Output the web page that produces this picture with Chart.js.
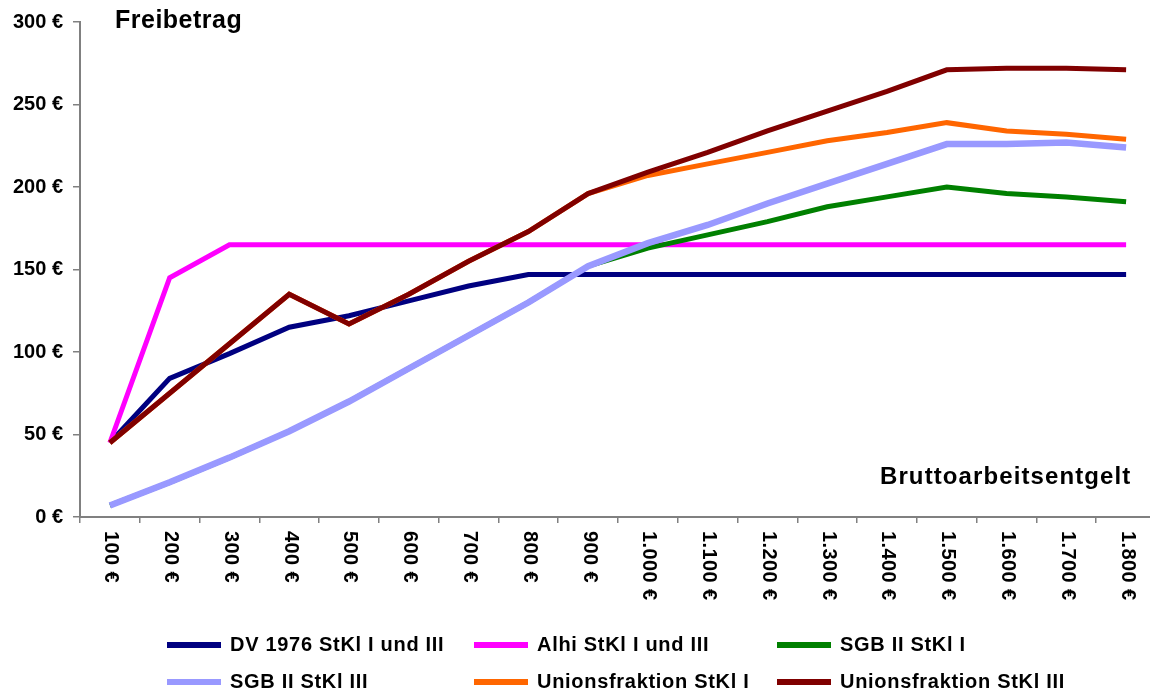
<!DOCTYPE html>
<html>
<head>
<meta charset="utf-8">
<script src="https://cdn.jsdelivr.net/npm/chart.js@4/dist/chart.umd.min.js"></script>
<style>
  body { margin: 0; background: #fff; }
  #wrap { position: relative; width: 1150px; height: 693px; overflow: hidden; }
  #chart { position: absolute; left: 0; top: 0; }
  .txt { position: absolute; font-family: "Liberation Sans", Arial, sans-serif; font-weight: bold; color: #000; white-space: nowrap; }
  #ytitle { left: 115px; top: 5px; font-size: 25px; letter-spacing: 0.5px; }
  #xtitle { left: 880px; top: 462px; font-size: 24px; letter-spacing: 1.1px; }
  .leg { position: absolute; height: 30px; }
  .leg .ln { position: absolute; left: 0; top: 12px; width: 54px; height: 6px; }
  .leg .lt { position: absolute; left: 63px; top: 3px; font-size: 20px; letter-spacing: 0.7px; }
</style>
</head>
<body>
<div id="wrap">
  <canvas id="chart" width="1160" height="693"></canvas>
  <div class="txt" id="ytitle">Freibetrag</div>
  <div class="txt" id="xtitle">Bruttoarbeitsentgelt</div>
  <div id="legend"></div>
</div>
<script>
// categories (gross pay)
var labels = ["100 €", "200 €", "300 €", "400 €", "500 €", "600 €", "700 €", "800 €", "900 €",
  "1.000 €", "1.100 €", "1.200 €", "1.300 €", "1.400 €", "1.500 €", "1.600 €", "1.700 €", "1.800 €"]

// series values
var dv1976   = [45, 84, 99, 115, 122, 131, 140, 147, 147, 147, 147, 147, 147, 147, 147, 147, 147, 147]
var alhi     = [45, 145, 165, 165, 165, 165, 165, 165, 165, 165, 165, 165, 165, 165, 165, 165, 165, 165]
var sgb1     = [7, 21, 36, 52, 70, 90, 110, 130, 152, 163, 171, 179, 188, 194, 200, 196, 194, 191]
var sgb3     = [7, 21, 36, 52, 70, 90, 110, 130, 152, 166, 177, 190, 202, 214, 226, 226, 227, 224]
var union1   = [45, 75, 105, 135, 117, 135, 155, 173, 196, 207, 214, 221, 228, 233, 239, 234, 232, 229]
var union3   = [45, 75, 105, 135, 117, 135, 155, 173, 196, 209, 221, 234, 246, 258, 271, 272, 272, 271]

var yTicks = [0, 50, 100, 150, 200, 250, 300]

var font = '"Liberation Sans", Arial, sans-serif'

function series(label, data, color, width, order) {
  return { label: label, data: data, borderColor: color, backgroundColor: color,
    borderWidth: width, pointRadius: 0, tension: 0, fill: false, order: order }
}

// x labels read top-to-bottom, so draw them ourselves
var rotatedLabels = {
  id: "rotatedLabels",
  afterDraw(chart) {
    var ctx = chart.ctx
    var xs = chart.scales.x
    ctx.save()
    ctx.font = "bold 20px " + font
    ctx.letterSpacing = "0.4px"
    ctx.fillStyle = "#000"
    ctx.textAlign = "left"
    ctx.textBaseline = "middle"
    xs.ticks.forEach((t, i) => {
      ctx.save()
      ctx.translate(xs.getPixelForTick(i) + 1, xs.top + 14)
      ctx.rotate(Math.PI / 2)
      ctx.fillText(chart.data.labels[i], 0, 0)
      ctx.restore()
    })
    ctx.restore()
  }
}

var chart = new Chart(document.getElementById("chart"), {
  type: "line",
  data: {
    labels: labels,
    datasets: [
      series("DV 1976 StKl I und III", dv1976, "#000080", 5, 6),
      series("Alhi StKl I und III", alhi, "#FF00FF", 5, 5),
      series("SGB II StKl I", sgb1, "#008000", 5, 4),
      series("SGB II StKl III", sgb3, "#9999FF", 6.5, 3),
      series("Unionsfraktion StKl I", union1, "#FF6600", 5, 2),
      series("Unionsfraktion StKl III", union3, "#800000", 5, 1)
    ]
  },
  options: {
    responsive: false,
    animation: false,
    devicePixelRatio: 1,
    layout: { padding: { top: 21, right: 4, bottom: 0, left: 0 } },
    plugins: { legend: { display: false }, tooltip: { enabled: false } },
    scales: {
      x: {
        offset: true,
        grid: { offset: true, drawOnChartArea: false, drawTicks: true, tickLength: 6, color: "#808080", lineWidth: 1.5 },
        border: { color: "#808080", width: 2 },
        ticks: { color: "rgba(0,0,0,0)", autoSkip: false, maxRotation: 0, font: { size: 8 } },
        afterFit(scale) { scale.height = 176 }
      },
      y: {
        min: yTicks[0],
        max: yTicks[yTicks.length - 1],
        afterBuildTicks(scale) { scale.ticks = yTicks.map(v => ({ value: v })) },
        grid: { drawOnChartArea: false, drawTicks: true, tickLength: 7, color: "#808080", lineWidth: 1.5 },
        border: { color: "#808080", width: 2 },
        ticks: {
          color: "#000",
          padding: 10,
          font: { family: font, size: 20, weight: "bold" },
          callback: v => v + " €"
        },
        afterFit(scale) { scale.width = 80 }
      }
    }
  },
  plugins: [rotatedLabels]
})

// legend in a 3 x 2 grid, like the original
var legCols = [167, 474, 777]
var legRows = [630, 667]
var legend = document.getElementById("legend")
chart.data.datasets.forEach((ds, i) => {
  var item = document.createElement("div")
  item.className = "leg"
  item.style.left = legCols[i % 3] + "px"
  item.style.top = legRows[Math.floor(i / 3)] + "px"
  item.innerHTML = "<div class='ln' style='background:" + ds.borderColor + "'></div>" +
    "<div class='lt txt'>" + ds.label + "</div>"
  legend.appendChild(item)
})
</script>
</body>
</html>
